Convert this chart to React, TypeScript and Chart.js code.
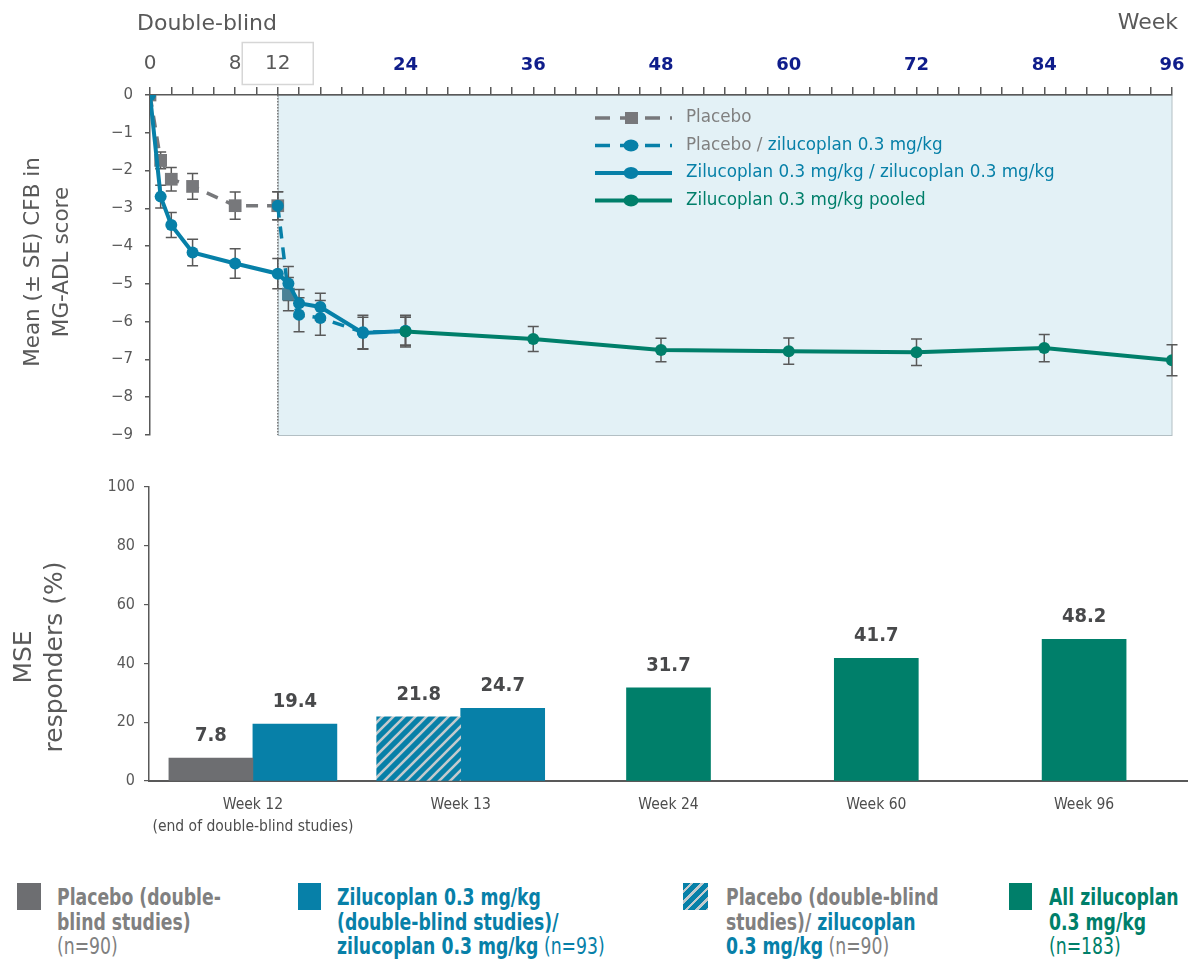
import React, { useEffect, useRef } from 'react';
import { Chart, registerables } from 'chart.js';
Chart.register(...registerables);

const SANS = '"DejaVu Sans", Verdana, sans-serif';
const COND = '"DejaVu Sans Condensed", "DejaVu Sans", sans-serif';

const BLUE = '#0780a8';
const GREEN = '#007f6a';
const GRAY_BAR = '#6d6e71';
const GRAY_LINE = '#77787b';
const WEEK13_MARK = '#4a8196';
const AXIS = '#595959';
const TXT = '#595959';
const LEG_GRAY = '#808080';
const NAVY = '#0f1d8b';
const SHADE = '#e3f1f6';
const HATCH_STRIPE = '#c4cacd';

// ---------- Top chart data (mean ± SE change from baseline in MG-ADL) ----------
const placeboWeeks = [0, 1, 2, 4, 8, 12];
const placeboMean = [0, -1.73, -2.23, -2.42, -2.93, -2.93];
const placeboSE = [0, 0.22, 0.31, 0.34, 0.36, 0.37];

const pboZilWeeks = [12, 13, 14, 16, 20, 24];
const pboZilMean = [-2.93, -5.27, -5.82, -5.9, -6.28, -6.25];
const pboZilSE = [0.37, 0.44, 0.45, 0.46, 0.45, 0.42];

const zilZilWeeks = [0, 1, 2, 4, 8, 12, 13, 14, 16, 20, 24];
const zilZilMean = [0, -2.69, -3.44, -4.17, -4.46, -4.73, -4.99, -5.51, -5.61, -6.3, -6.25];
const zilZilSE = [0, 0.3, 0.33, 0.35, 0.39, 0.4, 0.45, 0.36, 0.36, 0.42, 0.37];

const pooledWeeks = [24, 36, 48, 60, 72, 84, 96];
const pooledMean = [-6.26, -6.46, -6.75, -6.78, -6.81, -6.7, -7.02];
const pooledSE = [0.38, 0.33, 0.31, 0.35, 0.35, 0.36, 0.41];

const weekTickLabels = [0, 8, 12, 24, 36, 48, 60, 72, 84, 96];
const doubleBlindEnd = 12;

// ---------- Bottom chart data (MSE responders %) ----------
const barCategories = [['Week 12', '(end of double-blind studies)'], 'Week 13', 'Week 24', 'Week 60', 'Week 96'];
const placeboDB = [7.8, null, null, null, null];
const placeboZil = [null, 21.8, null, null, null];
const zilDB = [19.4, 24.7, null, null, null];
const zilPooled = [null, null, 31.7, 41.7, 48.2];

const topLegendRows = [
  { parts: [['Placebo', LEG_GRAY]], color: GRAY_LINE, dashed: true, marker: 'rect' },
  { parts: [['Placebo / ', LEG_GRAY], ['zilucoplan 0.3 mg/kg', BLUE]], color: BLUE, dashed: true, marker: 'circle' },
  { parts: [['Zilucoplan 0.3 mg/kg / zilucoplan 0.3 mg/kg', BLUE]], color: BLUE, dashed: false, marker: 'circle' },
  { parts: [['Zilucoplan 0.3 mg/kg pooled', GREEN]], color: GREEN, dashed: false, marker: 'circle' },
];

type Run = [string, string, boolean];
const bottomLegend: { left: number; textLeft: number; width: number; swatch: string; lines: Run[][] }[] = [
  {
    left: 17, textLeft: 57, width: 24, swatch: GRAY_BAR,
    lines: [[['Placebo (double-', LEG_GRAY, true]], [['blind studies)', LEG_GRAY, true]], [['(n=90)', LEG_GRAY, false]]],
  },
  {
    left: 298, textLeft: 337, width: 23, swatch: BLUE,
    lines: [[['Zilucoplan 0.3 mg/kg', BLUE, true]], [['(double-blind studies)/', BLUE, true]], [['zilucoplan 0.3 mg/kg', BLUE, true], [' (n=93)', BLUE, false]]],
  },
  {
    left: 683, textLeft: 726, width: 25, swatch: 'hatch',
    lines: [[['Placebo (double-blind', LEG_GRAY, true]], [['studies)/ ', LEG_GRAY, true], ['zilucoplan', BLUE, true]], [['0.3 mg/kg', BLUE, true], [' (n=90)', LEG_GRAY, false]]],
  },
  {
    left: 1009, textLeft: 1049, width: 23, swatch: GREEN,
    lines: [[['All zilucoplan', GREEN, true]], [['0.3 mg/kg', GREEN, true]], [['(n=183)', GREEN, false]]],
  },
];

const pts = (xs: number[], ys: number[]) => xs.map((x, i) => ({ x, y: ys[i] }));

function TopChart() {
  const ref = useRef<HTMLCanvasElement>(null);
  useEffect(() => {
    const bgPlugin = {
      id: 'bgShade',
      beforeDraw(chart: any) {
        const { ctx, chartArea: a, scales } = chart;
        const x12 = scales.x.getPixelForValue(doubleBlindEnd);
        ctx.save();
        ctx.fillStyle = SHADE;
        ctx.fillRect(x12, a.top, a.right - x12, a.bottom - a.top);
        ctx.strokeStyle = '#b3bfc4';
        ctx.lineWidth = 1;
        ctx.strokeRect(x12 + 0.5, a.top + 0.5, a.right - x12 - 0.5, a.bottom - a.top);
        ctx.strokeStyle = '#7d7d7d';
        ctx.lineWidth = 1.5;
        ctx.setLineDash([1.5, 1.5]);
        ctx.beginPath();
        ctx.moveTo(x12, a.top);
        ctx.lineTo(x12, a.bottom);
        ctx.stroke();
        ctx.setLineDash([]);
        // box around "12"
        ctx.fillStyle = '#ffffff';
        ctx.strokeStyle = '#d6d6d6';
        ctx.fillRect(x12 - 36, 42, 71, 42);
        ctx.strokeRect(x12 - 35.5, 42.5, 71, 42);
        // header texts
        ctx.fillStyle = TXT;
        ctx.font = `22px ${SANS}`;
        ctx.textBaseline = 'alphabetic';
        ctx.textAlign = 'left';
        ctx.fillText('Double-blind', 137, 30);
        ctx.textAlign = 'right';
        ctx.fillText('Week', 1178, 29);
        // y title
        ctx.translate(0, 262);
        ctx.rotate(-Math.PI / 2);
        ctx.textAlign = 'center';
        ctx.textBaseline = 'middle';
        ctx.font = `21.5px ${SANS}`;
        ctx.fillText('Mean (\u00B1 SE) CFB in', 0, 33);
        ctx.fillText('MG-ADL score', 0, 62);
        ctx.restore();
      },
      beforeDatasetsDraw(chart: any) {
        const { ctx, scales } = chart;
        ctx.save();
        ctx.strokeStyle = AXIS;
        ctx.lineWidth = 1.5;
        chart.data.datasets.forEach((ds: any) => {
          const se = ds.se as number[];
          if (!se) return;
          ds.data.forEach((p: any, i: number) => {
            const e = se[i];
            if (!e) return;
            const px = scales.x.getPixelForValue(p.x);
            const y1 = scales.y.getPixelForValue(p.y + e);
            const y2 = scales.y.getPixelForValue(p.y - e);
            ctx.beginPath();
            ctx.moveTo(px, y1);
            ctx.lineTo(px, y2);
            ctx.moveTo(px - 5.5, y1);
            ctx.lineTo(px + 5.5, y1);
            ctx.moveTo(px - 5.5, y2);
            ctx.lineTo(px + 5.5, y2);
            ctx.stroke();
          });
        });
        ctx.restore();
      },
      afterDraw(chart: any) {
        const { ctx } = chart;
        const rowY = [118, 145.5, 173, 200.5];
        ctx.save();
        topLegendRows.forEach((row, i) => {
          const y = rowY[i];
          ctx.strokeStyle = row.color;
          ctx.fillStyle = row.color;
          ctx.lineWidth = row.dashed ? 3.5 : 4;
          ctx.setLineDash(row.dashed ? [15, 10] : []);
          ctx.beginPath();
          ctx.moveTo(595, y);
          ctx.lineTo(672, y);
          ctx.stroke();
          ctx.setLineDash([]);
          if (row.marker === 'rect') {
            ctx.fillRect(625, y - 6, 13, 12);
          } else {
            ctx.beginPath();
            ctx.ellipse(631, y, 7.5, 6, 0, 0, Math.PI * 2);
            ctx.fill();
          }
          ctx.font = `16.8px ${SANS}`;
          ctx.textAlign = 'left';
          ctx.textBaseline = 'middle';
          let x = 686;
          row.parts.forEach(([t, c]) => {
            ctx.fillStyle = c;
            ctx.fillText(t, x, y);
            x += ctx.measureText(t).width;
          });
        });
        ctx.restore();
      },
    };

    const chart = new Chart(ref.current!, {
      type: 'line',
      data: {
        datasets: [
          {
            label: 'Zilucoplan 0.3 mg/kg pooled',
            data: pts(pooledWeeks, pooledMean),
            se: pooledSE,
            borderColor: GREEN,
            backgroundColor: GREEN,
            borderWidth: 4,
            pointStyle: 'circle',
            pointRadius: 6,
            pointBorderWidth: 0,
            pointBackgroundColor: GREEN,
            order: 0,
          } as any,
          {
            label: 'Zilucoplan 0.3 mg/kg / zilucoplan 0.3 mg/kg',
            data: pts(zilZilWeeks, zilZilMean),
            se: zilZilSE,
            borderColor: BLUE,
            backgroundColor: BLUE,
            borderWidth: 4,
            pointStyle: 'circle',
            pointRadius: 6,
            pointBorderWidth: 0,
            pointBackgroundColor: BLUE,
            order: 1,
          } as any,
          {
            label: 'Placebo / zilucoplan 0.3 mg/kg',
            data: pts(pboZilWeeks, pboZilMean),
            se: pboZilSE,
            borderColor: BLUE,
            backgroundColor: BLUE,
            borderWidth: 3.5,
            borderDash: [12, 9],
            pointStyle: pboZilWeeks.map((w) => (w === 13 ? 'rect' : 'circle')),
            pointRadius: pboZilWeeks.map((w) => (w === 13 ? 9 : 6)),
            pointBorderWidth: 0,
            pointBackgroundColor: pboZilWeeks.map((w) => (w === 13 ? WEEK13_MARK : BLUE)),
            order: 2,
          } as any,
          {
            label: 'Placebo',
            data: pts(placeboWeeks, placeboMean),
            se: placeboSE,
            borderColor: GRAY_LINE,
            backgroundColor: GRAY_LINE,
            borderWidth: 3.5,
            borderDash: [12, 9],
            pointStyle: 'rect',
            pointRadius: 9,
            pointBorderWidth: 0,
            pointBackgroundColor: GRAY_LINE,
            order: 3,
          } as any,
        ],
      },
      options: {
        animation: false,
        responsive: false,
        devicePixelRatio: 1,
        layout: { padding: { left: 0, right: 16, top: 0, bottom: 15 } },
        elements: { line: { tension: 0 } },
        plugins: { legend: { display: false }, tooltip: { enabled: false } },
        scales: {
          x: {
            type: 'linear',
            position: 'top',
            min: 0,
            max: 96,
            afterFit: (s: any) => {
              s.height = 95;
              s.paddingLeft = 0;
              s.paddingRight = 0;
            },
            ticks: {
              stepSize: 2,
              autoSkip: false,
              maxRotation: 0,
              padding: 11,
              callback: (v: any) => (weekTickLabels.includes(Number(v)) ? String(v) : ''),
              color: (c: any) => (c.tick && c.tick.value > doubleBlindEnd ? NAVY : TXT),
              font: (c: any) =>
                c.tick && c.tick.value > doubleBlindEnd
                  ? { family: SANS, size: 18, weight: 'bold' }
                  : { family: SANS, size: 20 },
            },
            grid: { drawOnChartArea: false, tickLength: 8, color: AXIS, lineWidth: 1.5 },
            border: { color: AXIS, width: 1.5 },
          },
          y: {
            min: -9,
            max: 0,
            afterFit: (s: any) => {
              s.width = 150;
              s.paddingTop = 0;
              s.paddingBottom = 0;
            },
            ticks: {
              stepSize: 1,
              padding: 12,
              color: TXT,
              font: { family: SANS, size: 15 },
              callback: (v: any) => (Number(v) < 0 ? '\u2212' + Math.abs(Number(v)) : String(v)),
            },
            grid: { drawOnChartArea: false, tickLength: 5, color: AXIS, lineWidth: 1.5 },
            border: { color: AXIS, width: 1.5 },
          },
        },
      },
      plugins: [bgPlugin],
    } as any);
    return () => chart.destroy();
  }, []);
  return (
    <canvas
      ref={ref}
      width={1188}
      height={450}
      style={{ position: 'absolute', left: 0, top: 0, width: 1188, height: 450 }}
    />
  );
}

function makeHatch(): CanvasPattern | string {
  const c = document.createElement('canvas');
  const s = 11;
  c.width = s;
  c.height = s;
  const g = c.getContext('2d');
  if (!g) return BLUE;
  g.fillStyle = BLUE;
  g.fillRect(0, 0, s, s);
  g.strokeStyle = HATCH_STRIPE;
  g.lineWidth = 2.6;
  g.beginPath();
  g.moveTo(-2, s + 2);
  g.lineTo(s + 2, -2);
  g.moveTo(-2, 2);
  g.lineTo(2, -2);
  g.moveTo(s - 2, s + 2);
  g.lineTo(s + 2, s - 2);
  g.stroke();
  return g.createPattern(c, 'repeat') || BLUE;
}

function BottomChart() {
  const ref = useRef<HTMLCanvasElement>(null);
  useEffect(() => {
    const hatch = makeHatch();
    const plugin = {
      id: 'barLabels',
      afterDatasetsDraw(chart: any) {
        const { ctx } = chart;
        ctx.save();
        ctx.font = `bold 20px ${COND}`;
        ctx.fillStyle = '#48494b';
        ctx.textAlign = 'center';
        ctx.textBaseline = 'alphabetic';
        chart.data.datasets.forEach((ds: any, di: number) => {
          chart.getDatasetMeta(di).data.forEach((el: any, i: number) => {
            const v = ds.data[i];
            if (v === null || v === undefined) return;
            ctx.fillText(v.toFixed(1), el.x, el.y - 17);
          });
        });
        ctx.restore();
      },
      afterDraw(chart: any) {
        const { ctx } = chart;
        ctx.save();
        ctx.fillStyle = TXT;
        ctx.translate(0, 207);
        ctx.rotate(-Math.PI / 2);
        ctx.textAlign = 'center';
        ctx.textBaseline = 'middle';
        ctx.font = `25px ${SANS}`;
        ctx.fillText('MSE', 0, 24);
        ctx.fillText('responders (%)', 0, 55);
        ctx.restore();
      },
    };
    const chart = new Chart(ref.current!, {
      type: 'bar',
      data: {
        labels: barCategories,
        datasets: [
          { label: 'Placebo (double-blind studies)', data: placeboDB, backgroundColor: GRAY_BAR },
          { label: 'Placebo (double-blind studies)/ zilucoplan 0.3 mg/kg', data: placeboZil, backgroundColor: hatch },
          { label: 'Zilucoplan 0.3 mg/kg (double-blind studies)/ zilucoplan 0.3 mg/kg', data: zilDB, backgroundColor: BLUE },
          { label: 'All zilucoplan 0.3 mg/kg', data: zilPooled, backgroundColor: GREEN },
        ],
      },
      options: {
        animation: false,
        responsive: false,
        devicePixelRatio: 1,
        layout: { padding: { left: 0, right: 0, top: 37, bottom: 0 } },
        datasets: { bar: { skipNull: true, barThickness: 84 } },
        plugins: { legend: { display: false }, tooltip: { enabled: false } },
        scales: {
          x: {
            afterFit: (s: any) => {
              s.height = 89;
            },
            grid: { drawOnChartArea: false, drawTicks: false },
            border: { display: true, color: AXIS, width: 2 },
            ticks: {
              autoSkip: false,
              maxRotation: 0,
              padding: 13.5,
              color: '#4d4d4d',
              font: { family: COND, size: 15.5, lineHeight: 1.38 },
            },
          },
          y: {
            min: 0,
            max: 100,
            afterFit: (s: any) => {
              s.width = 149;
            },
            ticks: { stepSize: 20, padding: 9, color: TXT, font: { family: COND, size: 16 } },
            grid: { drawOnChartArea: false, tickLength: 5, color: AXIS, lineWidth: 1.2 },
            border: { color: AXIS, width: 1.5 },
          },
        },
      },
      plugins: [plugin],
    } as any);
    return () => chart.destroy();
  }, []);
  return (
    <canvas
      ref={ref}
      width={1188}
      height={420}
      style={{ position: 'absolute', left: 0, top: 450, width: 1188, height: 420 }}
    />
  );
}

function BottomLegend() {
  const hatchCss = `repeating-linear-gradient(135deg, ${BLUE} 0px, ${BLUE} 5px, ${HATCH_STRIPE} 5px, ${HATCH_STRIPE} 7.5px)`;
  return (
    <>
      {bottomLegend.map((item, k) => (
        <React.Fragment key={k}>
          <div
            style={{
              position: 'absolute',
              left: item.left,
              top: 883,
              width: item.width,
              height: 27,
              background: item.swatch === 'hatch' ? hatchCss : item.swatch,
            }}
          />
          <div
            style={{
              position: 'absolute',
              left: item.textLeft,
              top: 885,
              fontFamily: SANS,
              fontSize: 23,
              lineHeight: '24.5px',
              transform: 'scaleX(0.75)',
              transformOrigin: 'left top',
              whiteSpace: 'pre',
            }}
          >
            {item.lines.map((runs, li) => (
              <div key={li}>
                {runs.map(([t, c, b], ri) => (
                  <span key={ri} style={{ color: c, fontWeight: b ? 'bold' : 'normal' }}>
                    {t}
                  </span>
                ))}
              </div>
            ))}
          </div>
        </React.Fragment>
      ))}
    </>
  );
}

export default function App() {
  return (
    <div
      style={{
        position: 'absolute',
        left: 0,
        top: 0,
        width: 1188,
        height: 959,
        background: '#ffffff',
        overflow: 'hidden',
      }}
    >
      <TopChart />
      <BottomChart />
      <BottomLegend />
    </div>
  );
}
